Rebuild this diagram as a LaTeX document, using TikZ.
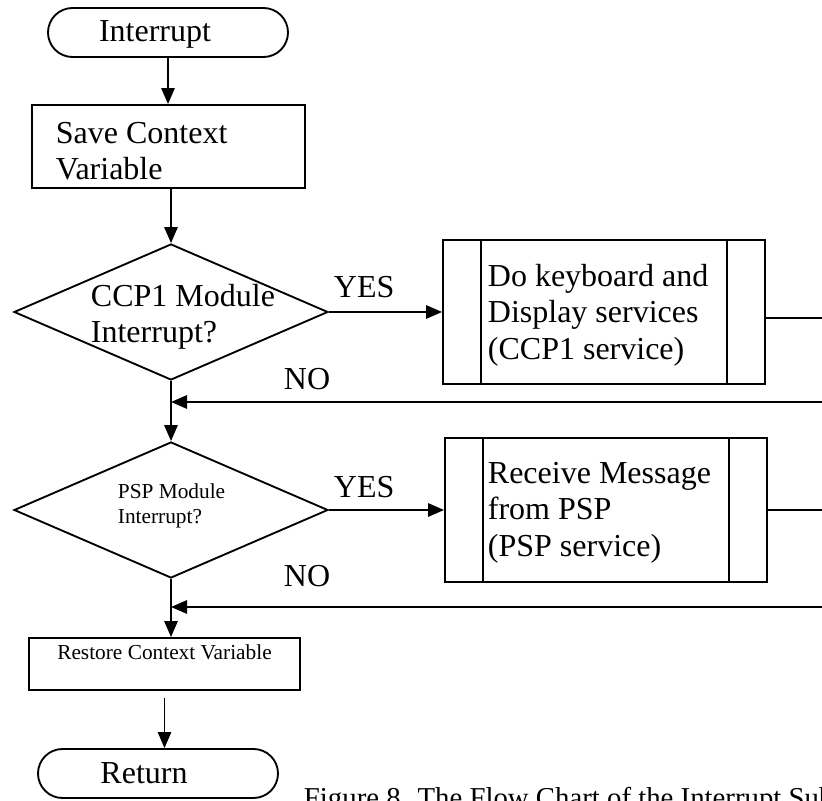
\documentclass[tikz,border=0pt]{standalone}
\usepackage{fontspec}
\setmainfont{Liberation Serif}
\usepackage{tikz}
\usetikzlibrary{arrows.meta,calc,shapes.geometric,shapes.misc}
\newcommand{\pxu}{0.375pt}
\newcommand{\bigfont}{\fontsize{12}{13.7}\selectfont}
\newcommand{\smallfont}{\fontsize{8}{9.4}\selectfont}

\begin{document}
\begin{tikzpicture}[x=\pxu,y=-\pxu,line width=0.7pt,
    arr/.style={-{Triangle[length=6pt,width=5pt]}},
    term/.style={draw,rounded rectangle,minimum width=240*\pxu,minimum height=49*\pxu,inner sep=0},
    procbox/.style={draw,rectangle,inner sep=0},
    decision/.style={draw,diamond,inner sep=0,minimum width=314*\pxu,minimum height=136*\pxu},
    txt/.style={inner sep=0,align=left,font=\bigfont},
    lbl/.style={inner sep=0,font=\bigfont},
    every label/.style={inner sep=0,font=\bigfont}]
  \useasboundingbox (0,0) rectangle (822,801);
  \clip (0,0) rectangle (822,801);

  % main column
  \node[term,label={[xshift=-13*\pxu,yshift=-2*\pxu]center:Interrupt}] (intr) at (168,32.5) {};
  \node[procbox,minimum width=273*\pxu,minimum height=83*\pxu] (save) at (168.5,146.5) {};
  \node[txt,anchor=north west] (savetxt) at (55,121) {Save Context\\Variable};
  \node[decision] (dec1) at (171,312) {};
  \node[txt,anchor=north west] (dec1txt) at (90,283) {CCP1 Module\\Interrupt?};
  \node[decision] (dec2) at (171,510) {};
  \node[txt,font=\smallfont,anchor=north west] (dec2txt) at (117,482.5) {PSP Module\\Interrupt?};
  \node[procbox,minimum width=271*\pxu,minimum height=52*\pxu] (rest) at (164.5,664) {};
  \node[lbl,font=\smallfont,anchor=base] (resttxt) at (164.5,660) {Restore Context Variable};
  \node[term,label={[xshift=-14*\pxu]center:Return}] (ret) at (158,773.5) {};

  % service routines
  \node[procbox,minimum width=322*\pxu,minimum height=144*\pxu] (svc1) at (604,312) {};
  \node[txt,anchor=north west] (svc1txt) at (487,263) {Do keyboard and\\Display services\\(CCP1 service)};
  \node[procbox,minimum width=322*\pxu,minimum height=144*\pxu] (svc2) at (606,510) {};
  \node[txt,anchor=north west] (svc2txt) at (487,461) {Receive Message\\from PSP\\(PSP service)};
  \foreach \b in {svc1,svc2} {
    \draw ([xshift=39*\pxu]\b.north west) -- ([xshift=39*\pxu]\b.south west);
    \draw ([xshift=-39*\pxu]\b.north east) -- ([xshift=-39*\pxu]\b.south east);
  }

  \node[lbl,anchor=base west] (yes1) at (333,298) {YES};
  \node[lbl,anchor=base west] (no1) at (283,390) {NO};
  \node[lbl,anchor=base west] (yes2) at (333,498) {YES};
  \node[lbl,anchor=base west] (no2) at (283,587) {NO};

  \coordinate (out1) at (850,318);
  \coordinate (out2) at (850,510);
  \coordinate (back1) at (171,402);
  \coordinate (back2) at (171,607);

  \draw[arr] (intr.south) -- (intr.south |- save.north);
  \draw[arr] (save.south -| dec1.north) -- (dec1.north);
  \draw[arr] (dec1.east) -- (svc1.west);
  \draw[arr] ([yshift=-6*\pxu]svc1.east) -- (out1) |- (back1);
  \draw[arr] (dec1.south) -- (dec2.north);
  \draw[arr] (dec2.east) -- (svc2.west);
  \draw[arr] (svc2.east) -- (out2) |- (back2);
  \draw[arr] (dec2.south) -- (dec2.south |- rest.north);
  \draw[arr,shorten <=7*\pxu] (rest.south) -- (rest.south |- ret.north);

  \node[lbl,font=\fontsize{10.8}{12}\selectfont,anchor=base west] (cap) at (303,808) {Figure 8. The Flow Chart of the Interrupt Subroutine};
\end{tikzpicture}
\end{document}
